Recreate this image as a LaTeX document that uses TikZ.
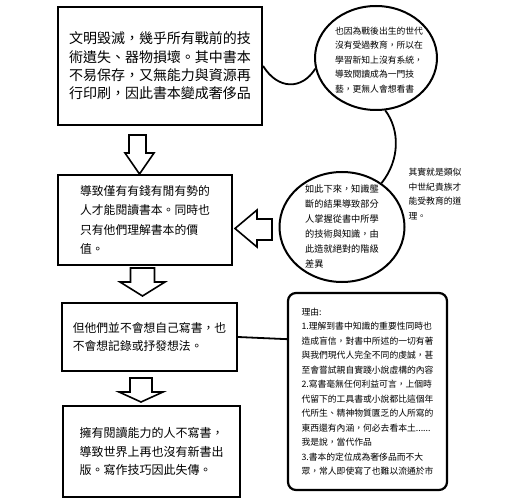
\documentclass[tikz,border=0pt]{standalone}
\usepackage{fontspec}
\setmainfont{Noto Sans CJK TC}
\usetikzlibrary{shapes.geometric}

\begin{document}
\begin{tikzpicture}[x=1pt,y=-1pt,
	box/.style={draw=black,line width=2.2pt,align=left,inner sep=0pt},
	bubble/.style={shape=ellipse,draw=black,line width=2pt,inner sep=0pt},
	small/.style={align=left,inner sep=0pt,font=\fontsize{8.8}{14.5}\selectfont},
	link/.style={draw=black,line width=1.8pt},
	blockarrow/.style={draw=black,line width=1.6pt,fill=white,line join=miter}]
	
	\useasboundingbox (0,0) rectangle (520,500);
	
	\node[box,minimum width=204pt,minimum height=118pt,font=\fontsize{14}{18.3}\selectfont] (t1) at (160,66)
		{文明毀滅，幾乎所有戰前的技\\術遺失、器物損壞。其中書本\\不易保存，又無能力與資源再\\行印刷，因此書本變成奢侈品};
	\node[box,minimum width=174pt,minimum height=90pt,font=\fontsize{11.8}{19.5}\selectfont] (t2) at (145,220)
		{導致僅有有錢有閒有勢的\\人才能閱讀書本。同時也\\只有他們理解書本的價\\值。};
	\node[box,minimum width=175pt,minimum height=68pt,font=\fontsize{11.8}{18.5}\selectfont] (t3) at (149.5,337)
		{但他們並不會想自己寫書，也\\不會想記錄或抒發想法。};
	\node[box,minimum width=177pt,minimum height=91pt,font=\fontsize{12}{18.5}\selectfont] (t4) at (151.5,451.5)
		{擁有閱讀能力的人不寫書，\\導致世界上再也沒有新書出\\版。寫作技巧因此失傳。};
	
	\node[bubble,minimum width=122pt,minimum height=104pt] (c1) at (376,58) {};
	\node[small] (c1text) at (379,60)
		{也因為戰後出生的世代\\沒有受過教育，所以在\\學習新知上沒有系統，\\導致閱讀成為一門技\\藝，更無人會想看書};
	\node[bubble,minimum width=125pt,minimum height=110pt] (c2) at (342,227) {};
	\node[small,font=\fontsize{9.2}{15}\selectfont] (c2text) at (342,226)
		{如此下來，知識壟\\斷的結果導致部分\\人掌握從書中所學\\的技術與知識，由\\此造就絕對的階級\\差異};
	
	\node[small] (note) at (435,194)
		{其實就是類似\\中世紀貴族才\\能受教育的道\\理。};
	
	\node[box,small,line width=2.2pt,rounded corners=8pt,minimum width=159pt,minimum height=197pt] (reasons) at (367.5,391.5)
		{理由:\\1.理解到書中知識的重要性同時也\\造成盲信，對書中所述的一切有著\\與我們現代人完全不同的虔誠，甚\\至會嘗試親自實踐小說虛構的內容\\2.寫書毫無任何利益可言，上個時\\代留下的工具書或小說都比這個年\\代所生、精神物質匱乏的人所寫的\\東西還有內涵，何必去看本土......\\我是說，當代作品\\3.書本的定位成為奢侈品而不大\\眾，常人即使寫了也難以流通於市};
	
	\draw[blockarrow] (129,135) -- (146,135) -- (146,153) -- (154,153) -- (139.5,174) -- (125,153) -- (129,153) -- cycle;
	\draw[blockarrow] (130.5,268) -- (154.5,268) -- (154.5,282) -- (165,282) -- (142.5,296) -- (120,282) -- (130.5,282) -- cycle;
	\draw[blockarrow] (130,378) -- (152,378) -- (152,392) -- (163,392) -- (141,402) -- (119,392) -- (130,392) -- cycle;
	\draw[blockarrow] (272,219) -- (257,219) -- (257,210) -- (235,228.5) -- (257,247) -- (257,240) -- (272,240) -- cycle;
	
	\draw[link] (t1.east) .. controls (278,90) and (302,90) .. (c1.190);
	\draw[link] (c1.280) .. controls (400,130) and (400,160) .. (c2.48);
	\draw[link] (t3.east) -- (reasons.147);
	
\end{tikzpicture}
\end{document}
